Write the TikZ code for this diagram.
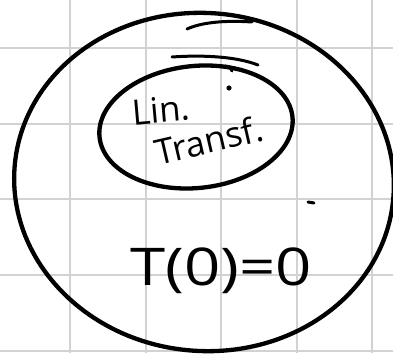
\documentclass[tikz,border=0pt]{standalone}
\usepackage{fontspec}
\setmainfont{Open Sans}
\begin{document}
\begin{tikzpicture}[x=1pt,y=1pt,
  gridline/.style={draw=gray!35,line width=2pt},
  ink/.style={draw=black,line width=4.3pt,line cap=round},
  thinink/.style={draw=black,line width=3pt,line cap=round},
  handtext/.style={inner sep=0pt,font=\fontsize{#1}{#1}\selectfont}]
\useasboundingbox (0,0) rectangle (393,353);
\fill[white] (0,0) rectangle (393,353);
% grid
\foreach \x in {70,145.5,221,296.5,372} \draw[gridline] (\x,0) -- (\x,353);
\foreach \y in {2,78,153.5,229,305} \draw[gridline] (0,\y) -- (393,\y);
% outer ellipse
\draw[ink] (204,171) ellipse[x radius=190,y radius=169,rotate=-5];
\draw[thinink] (187,324) .. controls (200,330) and (222,333) .. (252,331);
% inner ellipse
\draw[ink] (196,226) ellipse[x radius=97,y radius=61,rotate=6];
\draw[thinink] (172,296) .. controls (200,298) and (235,297) .. (258,288);
\draw[thinink] (225,287) .. controls (230,286) and (232,285) .. (232,282);
% dots
\fill (229,265) circle (2.6);
\draw[ink,line width=3pt] (308,151) -- (314,150);
% texts
\node[handtext=35,rotate=5] (lin) at (161,243) {Lin.};
\node[handtext=35,rotate=13] (transf) at (209,213) {Transf.};
\node[handtext=52,xscale=1.22] (eq) at (221,82) {T(0)=0};
\end{tikzpicture}
\end{document}
